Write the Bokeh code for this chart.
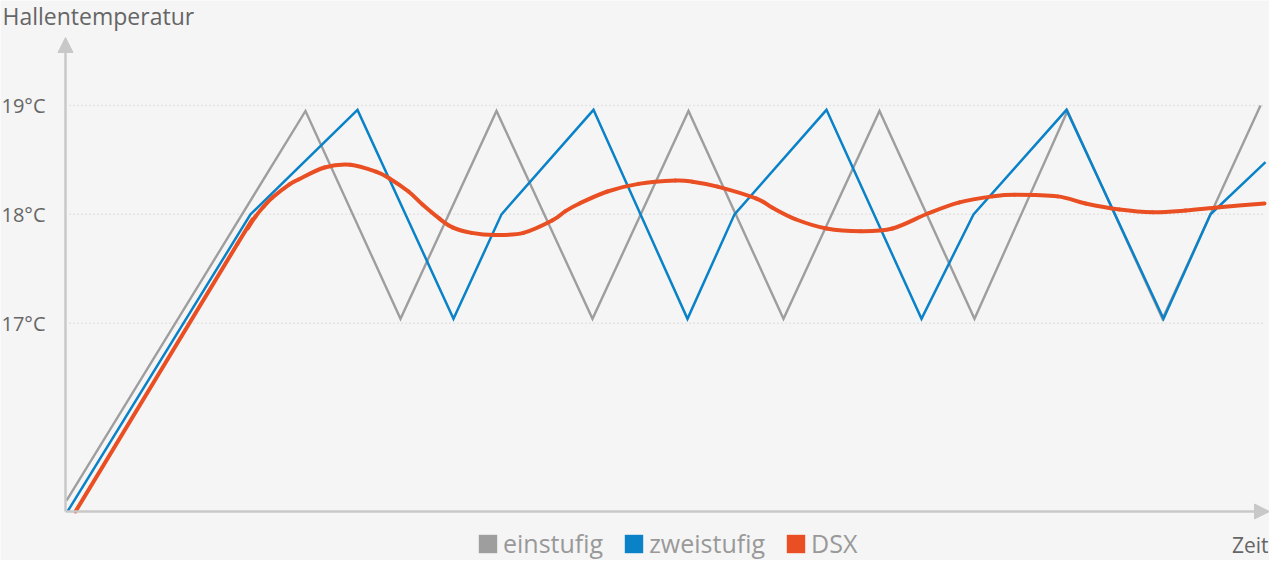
from bokeh.plotting import figure
from bokeh.models import Range1d, Arrow, NormalHead, Legend, LegendItem
from bokeh.core.properties import value
from bokeh.embed import file_html
from bokeh.resources import INLINE

# ---- data (time in arbitrary units, temperature in °C) ----
einstufig_t = [1, 240, 335, 431, 527, 623, 718, 814, 909, 1002, 1097, 1195]
einstufig_v = [15.37, 18.95, 17.04, 18.95, 17.04, 18.95, 17.04, 18.95, 17.04, 18.95, 17.04, 19.0]

zweistufig_t = [2, 185, 292, 388, 436, 528, 622, 669, 761, 856, 908, 1001, 1098, 1145, 1200]
zweistufig_v = [15.27, 18.0, 18.96, 17.04, 18.0, 18.96, 17.04, 18.0, 18.96, 17.04, 18.0, 18.96, 17.04, 18.0, 18.48]

dsx_t = [10, 172, 182, 190, 198, 207, 224, 233, 259, 285, 311, 324, 343, 357, 374, 387, 406, 429,
         458, 487, 500, 514, 542, 573, 610, 627, 652, 691, 707, 730, 761, 795, 827, 863, 894, 927,
         949, 992, 1020, 1054, 1087, 1120, 1154, 1199]
dsx_v = [15.27, 17.73, 17.87, 17.98, 18.07, 18.155, 18.275, 18.32, 18.43, 18.455, 18.39, 18.33,
         18.21, 18.09, 17.96, 17.88, 17.83, 17.81, 17.83, 17.945, 18.03, 18.10, 18.21, 18.28, 18.31,
         18.30, 18.255, 18.145, 18.06, 17.955, 17.87, 17.845, 17.87, 18.01, 18.11, 18.165, 18.18,
         18.165, 18.10, 18.045, 18.02, 18.035, 18.065, 18.10]

y_ticks = [17, 18, 19]
y_tick_labels = ["17°C", "18°C", "19°C"]
series_names = ["einstufig", "zweistufig", "DSX"]
series_colors = ["#9e9e9e", "#0a82c8", "#e94f23"]

title_text = "Hallentemperatur"
x_title_text = "Zeit"

FONT = "Open Sans"
BG = "#f5f5f5"
AXIS_C = "#c8c8c8"
TEXT_C = "#666666"

# layout (pixels -> data)
W, H = 1269, 560
x0_px = 65                 # canvas x of time origin
y19_px, ppd = 105, 108.85  # canvas y (from top) of 19 °C, pixels per degree
y_base = min(dsx_v)
x_end = 1204
y_top = 19 + (y19_px - 37) / ppd


def y_at(px):
    """data value at canvas pixel row px (from top)"""
    return 19 + (y19_px - px) / ppd


p = figure(width=W, height=H, output_backend="svg", toolbar_location=None,
           x_range=Range1d(-x0_px, W - x0_px), y_range=Range1d(y_at(H), y_at(0)),
           min_border=0, min_border_left=0, min_border_right=0, min_border_top=0, min_border_bottom=0,
           background_fill_color=BG, border_fill_color=BG, outline_line_color=None)
p.axis.visible = False
p.grid.visible = False

# dotted horizontal gridlines
p.segment(x0=[4] * len(y_ticks), x1=[1200] * len(y_ticks), y0=y_ticks, y1=y_ticks,
          line_color="#d2d2d2", line_width=1.5, line_dash="1 3")

# tick labels
p.text(x=[-20] * len(y_ticks), y=y_ticks, text=y_tick_labels, text_font=value(FONT),
       text_font_size="20px", text_color=TEXT_C, text_align="right", text_baseline="middle")

# axis arrows
p.add_layout(Arrow(x_start=0, y_start=y_base, x_end=0, y_end=y_top,
                   line_color=AXIS_C, line_width=2.5,
                   end=NormalHead(size=15, fill_color=AXIS_C, line_color=AXIS_C, line_width=1)))
p.add_layout(Arrow(x_start=0, y_start=y_base, x_end=x_end, y_end=y_base,
                   line_color=AXIS_C, line_width=2.5,
                   end=NormalHead(size=15, fill_color=AXIS_C, line_color=AXIS_C, line_width=1)))

# series
p.line(einstufig_t, einstufig_v, line_color=series_colors[0], line_width=2.4, line_join="miter")
p.line(zweistufig_t, zweistufig_v, line_color=series_colors[1], line_width=2.5, line_join="miter")

# DSX drawn as a smooth curve through the read points (Catmull-Rom -> cubic Bezier)
n = len(dsx_t)
bx0, by0, bx1, by1, cx0, cy0, cx1, cy1 = ([] for _ in range(8))
for i in range(n - 1):
    a = max(i - 1, 0)
    d = min(i + 2, n - 1)
    bx0.append(dsx_t[i]); by0.append(dsx_v[i])
    bx1.append(dsx_t[i + 1]); by1.append(dsx_v[i + 1])
    cx0.append(dsx_t[i] + (dsx_t[i + 1] - dsx_t[a]) / 6)
    cy0.append(dsx_v[i] + (dsx_v[i + 1] - dsx_v[a]) / 6)
    cx1.append(dsx_t[i + 1] - (dsx_t[d] - dsx_t[i]) / 6)
    cy1.append(dsx_v[i + 1] - (dsx_v[d] - dsx_v[i]) / 6)
p.bezier(x0=bx0, y0=by0, x1=bx1, y1=by1, cx0=cx0, cy0=cy0, cx1=cx1, cy1=cy1,
         line_color=series_colors[2], line_width=4, line_cap="round")

# titles
p.text(x=[-63], y=[y_at(15)], text=[title_text], text_font=value(FONT),
       text_font_size="23px", text_color=TEXT_C, text_align="left", text_baseline="middle")
p.text(x=[x_end - 1], y=[y_at(544)], text=[x_title_text], text_font=value(FONT),
       text_font_size="21px", text_color=TEXT_C, text_align="right", text_baseline="middle")

# legend swatches
nan = float("nan")
items = []
for name, col in zip(series_names, series_colors):
    r = p.quad(left=[nan], right=[nan], top=[nan], bottom=[nan], fill_color=col, line_color=None)
    items.append(LegendItem(label=name, renderers=[r]))
legend = Legend(items=items, orientation="horizontal", location=(476, 0),
                background_fill_alpha=0, border_line_color=None,
                label_text_font=FONT, label_text_font_size="25px", label_text_color="#999999",
                glyph_width=23, glyph_height=23, label_standoff=4, spacing=19,
                padding=0, margin=0, label_height=23)
p.add_layout(legend, "center")

open("out.html", "w").write(file_html(p, INLINE))
